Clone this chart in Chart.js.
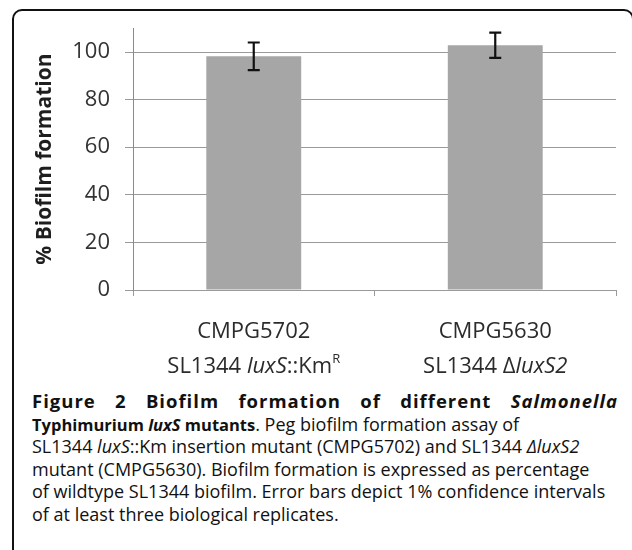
<!DOCTYPE html>
<html>
<head>
<meta charset="utf-8">
<title>Biofilm formation of luxS mutants</title>
<script src="https://cdn.jsdelivr.net/npm/chart.js@4.4.1/dist/chart.umd.min.js"></script>
<style>
    html, body {
        margin: 0;
        padding: 0;
        width: 632px;
        height: 550px;
        overflow: hidden;
        background: #fff;
        font-family: "Open Sans", sans-serif;
    }
    #frame {
        position: absolute;
        left: 12px;
        top: 9px;
        width: 618px;
        height: 620px;
        border: 2px solid #111;
        border-radius: 10px;
    }
    #chart {
        position: absolute;
        left: 0;
        top: 0;
    }
    #caption {
        position: absolute;
        left: 32px;
        top: 390px;
        width: 586px;
        color: #111;
        font-size: 18px;
    }
    #caption .line {
        height: 22.6px;
        line-height: 22.6px;
        white-space: nowrap;
    }
    #caption .line b {
        font-size: 16.5px;
    }
    #caption .title {
        font-weight: bold;
        font-size: 18.5px;
        letter-spacing: 1px;
        text-align: justify;
        text-align-last: justify;
    }
</style>
</head>
<body>
<div id="frame"></div>
<canvas id="chart" width="632" height="385"></canvas>
<div id="caption">
    <div class="line title">Figure 2 Biofilm formation of different <i>Salmonella</i></div>
    <div class="line"><b>Typhimurium <i>luxS</i> mutants</b>. Peg biofilm formation assay of</div>
    <div class="line">SL1344 <i>luxS</i>::Km insertion mutant (CMPG5702) and SL1344 <i>ΔluxS2</i></div>
    <div class="line">mutant (CMPG5630). Biofilm formation is expressed as percentage</div>
    <div class="line">of wildtype SL1344 biofilm. Error bars depict 1% confidence intervals</div>
    <div class="line">of at least three biological replicates.</div>
</div>
<script>
// Chart data
const strainCodes = ['CMPG5702', 'CMPG5630'];
const strainNames = ['SL1344 <i>luxS</i>::Km<sup>R</sup>', 'SL1344 Δ<i>luxS2</i>'];
const biofilmPercent = [98.2, 102.8];
const errorMargin = [5.8, 5.3];
const yTickValues = [0, 20, 40, 60, 80, 100];

const LABEL_FONT = '"Open Sans", sans-serif';

// Split a label with <i> / <sup> tags into styled pieces
function parseLabel(str) {
    const parts = [];
    const re = /<(i|sup)>(.*?)<\/\1>|([^<]+)/g;
    let m;
    while ((m = re.exec(str)) !== null) {
        if (m[3]) parts.push({ text: m[3], style: 'normal' });
        else parts.push({ text: m[2], style: m[1] });
    }
    return parts;
}

function fontFor(style) {
    if (style === 'i') return 'italic 22px ' + LABEL_FONT;
    if (style === 'sup') return '13px ' + LABEL_FONT;
    return '22px ' + LABEL_FONT;
}

// Two-line category labels under the x axis
const categoryLabels = {
    id: 'categoryLabels',
    afterDraw(chart) {
        const ctx = chart.ctx;
        const xScale = chart.scales.x;
        ctx.save();
        ctx.fillStyle = '#2b2b2b';
        ctx.textBaseline = 'middle';
        strainCodes.forEach((code, i) => {
            const x = xScale.getPixelForValue(i);
            ctx.font = fontFor('normal');
            ctx.textAlign = 'center';
            ctx.fillText(code, x, 332);

            const parts = parseLabel(strainNames[i]);
            let total = 0;
            parts.forEach(p => {
                ctx.font = fontFor(p.style);
                p.width = ctx.measureText(p.text).width;
                total += p.width;
            });
            let cx = x - total / 2;
            ctx.textAlign = 'left';
            parts.forEach(p => {
                ctx.font = fontFor(p.style);
                ctx.fillText(p.text, cx, p.style === 'sup' ? 359 : 367);
                cx += p.width;
            });
        });
        ctx.restore();
    }
};

// Error bars on top of each bar
const errorBars = {
    id: 'errorBars',
    afterDatasetsDraw(chart) {
        const ctx = chart.ctx;
        const yScale = chart.scales.y;
        const meta = chart.getDatasetMeta(0);
        ctx.save();
        ctx.strokeStyle = '#111';
        ctx.lineWidth = 2.2;
        meta.data.forEach((bar, i) => {
            const top = yScale.getPixelForValue(biofilmPercent[i] + errorMargin[i]);
            const bottom = yScale.getPixelForValue(biofilmPercent[i] - errorMargin[i]);
            ctx.beginPath();
            ctx.moveTo(bar.x, top);
            ctx.lineTo(bar.x, bottom);
            ctx.moveTo(bar.x - 6, top);
            ctx.lineTo(bar.x + 6, top);
            ctx.moveTo(bar.x - 6, bottom);
            ctx.lineTo(bar.x + 6, bottom);
            ctx.stroke();
        });
        ctx.restore();
    }
};

function init() {
    const ctx = document.getElementById('chart').getContext('2d');
    new Chart(ctx, {
        type: 'bar',
        data: {
            labels: strainCodes,
            datasets: [{
                data: biofilmPercent,
                backgroundColor: '#a6a6a6',
                borderWidth: 0,
                categoryPercentage: 1,
                barPercentage: 0.393
            }]
        },
        options: {
            responsive: false,
            animation: false,
            devicePixelRatio: 1,
            layout: {
                padding: { top: 27, right: 16, left: 0, bottom: 0 }
            },
            plugins: {
                legend: { display: false },
                tooltip: { enabled: false }
            },
            scales: {
                x: {
                    offset: true,
                    ticks: { display: false },
                    grid: {
                        offset: true,
                        drawOnChartArea: false,
                        tickLength: 6,
                        color: '#9a9a9a'
                    },
                    border: { color: '#9a9a9a' },
                    afterFit: scale => { scale.height = 95; }
                },
                y: {
                    min: 0,
                    max: 110,
                    afterBuildTicks: scale => {
                        scale.ticks = yTickValues.map(v => ({ value: v }));
                    },
                    ticks: {
                        padding: 15,
                        color: '#333',
                        font: { family: 'Open Sans', size: 22 }
                    },
                    grid: {
                        tickLength: 8,
                        color: '#9a9a9a'
                    },
                    border: { color: '#8a8a8a' },
                    title: {
                        display: true,
                        text: '% Biofilm formation',
                        color: '#1e1e1e',
                        font: { family: 'Open Sans', size: 21, weight: 'bold' },
                        padding: { top: 32, bottom: 0 }
                    },
                    afterFit: scale => { scale.width = 133; }
                }
            }
        },
        plugins: [errorBars, categoryLabels]
    });
}

document.addEventListener('DOMContentLoaded', init);
</script>
</body>
</html>
